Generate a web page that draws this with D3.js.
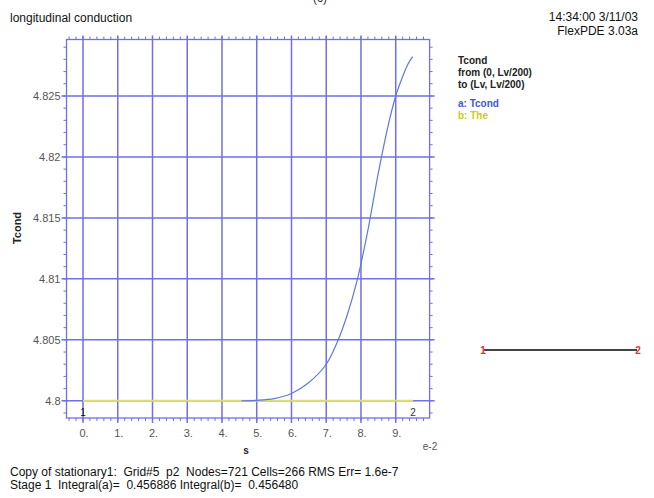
<!DOCTYPE html>
<html>
<head>
<meta charset="utf-8">
<script src="https://cdn.jsdelivr.net/npm/d3@7"></script>
<style>
 body{margin:0;background:#fff;}
 text{font-family:Arial,"Liberation Sans",sans-serif;}
</style>
</head>
<body>
<script>
// s values are in units of e-2
var sTcond = [4.56, 5.0, 5.5, 6.0, 6.5, 7.0, 7.3, 7.6, 7.9, 8.2, 8.5, 8.8, 9.0, 9.2, 9.35, 9.49];
var vTcond = [4.8, 4.80004, 4.80018, 4.8006, 4.8015, 4.803, 4.8047, 4.807, 4.81, 4.814, 4.8187, 4.8228, 4.825, 4.8266, 4.8276, 4.82822];
var sThe = [0, 9.5];
var vThe = [4.8, 4.8];
var xTicks = [0,1,2,3,4,5,6,7,8,9];
var yTicks = [4.8, 4.805, 4.81, 4.815, 4.82, 4.825];
var yTickLabels = ["4.8","4.805","4.81","4.815","4.82","4.825"];

var W = 654, H = 498;
var gridColor = "#6f6fe6";

var svg = d3.select("body").append("svg")
    .attr("width", W)
    .attr("height", H);

var x = d3.scaleLinear().domain([-0.475, 9.975]).range([66.5, 429.6]);
var y = d3.scaleLinear().domain([4.79859, 4.82963]).range([418, 39.5]);

// frame
svg.append("rect")
   .attr("x", x.range()[0]).attr("y", y.range()[1])
   .attr("width", x.range()[1]-x.range()[0])
   .attr("height", y.range()[0]-y.range()[1])
   .attr("fill","none").attr("stroke",gridColor).attr("stroke-width",1.3);

// minor ticks
var xMinor = d3.range(-0.4, 9.95, 0.2);
svg.selectAll(".xminb").data(xMinor).enter().append("line")
   .attr("x1", d=>x(d)).attr("x2", d=>x(d))
   .attr("y1", y.range()[0]).attr("y2", y.range()[0]+3)
   .attr("stroke", gridColor).attr("stroke-width",1);
svg.selectAll(".xmint").data(xMinor).enter().append("line")
   .attr("x1", d=>x(d)).attr("x2", d=>x(d))
   .attr("y1", y.range()[1]).attr("y2", y.range()[1]-3)
   .attr("stroke", gridColor).attr("stroke-width",1);
var yMinor = d3.range(4.799, 4.8296, 0.001);
svg.selectAll(".yminl").data(yMinor).enter().append("line")
   .attr("x1", x.range()[0]-3).attr("x2", x.range()[0])
   .attr("y1", d=>y(d)).attr("y2", d=>y(d))
   .attr("stroke", gridColor).attr("stroke-width",1);
svg.selectAll(".yminr").data(yMinor).enter().append("line")
   .attr("x1", x.range()[1]).attr("x2", x.range()[1]+3)
   .attr("y1", d=>y(d)).attr("y2", d=>y(d))
   .attr("stroke", gridColor).attr("stroke-width",1);

// grid
svg.selectAll(".vg").data(xTicks).enter().append("line")
   .attr("x1", d=>x(d)).attr("x2", d=>x(d))
   .attr("y1", y.range()[1]-4).attr("y2", y.range()[0]+5)
   .attr("stroke", gridColor).attr("stroke-width",1.5);
svg.selectAll(".hg").data(yTicks).enter().append("line")
   .attr("x1", x.range()[0]-5).attr("x2", x.range()[1]+5)
   .attr("y1", d=>y(d)).attr("y2", d=>y(d))
   .attr("stroke", gridColor).attr("stroke-width",1.5);

// tick labels
svg.selectAll(".yl").data(yTicks).enter().append("text")
   .attr("x", x.range()[0]-6).attr("y", d=>y(d)+4)
   .attr("text-anchor","end").attr("font-size",11).attr("fill","#555")
   .text((d,i)=>yTickLabels[i]);
svg.selectAll(".xl").data(xTicks).enter().append("text")
   .attr("x", d=>x(d)+1).attr("y", 437)
   .attr("text-anchor","middle").attr("font-size",11).attr("fill","#555")
   .text(d=>d+".");

// series
var line = d3.line().x(d=>x(d[0])).y(d=>y(d[1]));
svg.append("path")
   .attr("d", line(d3.zip(sThe, vThe)))
   .attr("fill","none").attr("stroke","#dede70").attr("stroke-width",2);
svg.append("path")
   .attr("d", line.curve(d3.curveCatmullRom)(d3.zip(sTcond, vTcond)))
   .attr("fill","none").attr("stroke","#5f78dc").attr("stroke-width",1.2);

// end markers
svg.append("text").attr("x", x(0)).attr("y", 416).attr("text-anchor","middle")
   .attr("font-size",10).attr("fill","#111").text("1");
svg.append("text").attr("x", x(9.5)).attr("y", 416).attr("text-anchor","middle")
   .attr("font-size",10).attr("fill","#333").text("2");

// axis labels
svg.append("text").attr("x", 246).attr("y", 454).attr("text-anchor","middle")
   .attr("font-size",10).attr("font-weight","bold").attr("fill","#222").text("s");
svg.append("text").attr("x", 430).attr("y", 450).attr("text-anchor","middle")
   .attr("font-size",10).attr("fill","#555").text("e-2");
svg.append("text").attr("transform","translate(21,228) rotate(-90)")
   .attr("text-anchor","middle").attr("font-size",11).attr("font-weight","bold")
   .attr("fill","#222").text("Tcond");

// header
svg.append("text").attr("x", 320).attr("y", 2).attr("text-anchor","middle")
   .attr("font-size",12).attr("fill","#333").text("(c)");
svg.append("text").attr("x", 10).attr("y", 22).attr("font-size",12).attr("fill","#111")
   .text("longitudinal conduction");
svg.append("text").attr("x", 638).attr("y", 21).attr("text-anchor","end")
   .attr("font-size",12).attr("fill","#111").text("14:34:00 3/11/03");
svg.append("text").attr("x", 638).attr("y", 35).attr("text-anchor","end")
   .attr("font-size",12).attr("fill","#111").text("FlexPDE 3.03a");

// legend
var legend = [
  {t:"Tcond", c:"#222", y:64},
  {t:"from (0, Lv/200)", c:"#222", y:76},
  {t:"to (Lv, Lv/200)", c:"#222", y:88},
  {t:"a: Tcond", c:"#3a5ad8", y:107},
  {t:"b: The", c:"#cccc10", y:119}
];
svg.selectAll(".lg").data(legend).enter().append("text")
   .attr("x", 458).attr("y", d=>d.y).attr("font-size",10).attr("font-weight","bold")
   .attr("fill", d=>d.c).text(d=>d.t);

// domain sketch
svg.append("line").attr("x1",484).attr("x2",637).attr("y1",350).attr("y2",350)
   .attr("stroke","#444").attr("stroke-width",2);
svg.append("text").attr("x",483).attr("y",354).attr("text-anchor","middle")
   .attr("font-size",10).attr("font-weight","bold").attr("fill","#d33").text("1");
svg.append("text").attr("x",638).attr("y",354).attr("text-anchor","middle")
   .attr("font-size",10).attr("font-weight","bold").attr("fill","#d33").text("2");

// footer
svg.append("text").attr("x", 10).attr("y", 476).attr("font-size",12).attr("fill","#111")
   .attr("xml:space","preserve")
   .text("Copy of stationary1:  Grid#5  p2  Nodes=721 Cells=266 RMS Err= 1.6e-7");
svg.append("text").attr("x", 10).attr("y", 489).attr("font-size",12).attr("fill","#111")
   .attr("xml:space","preserve")
   .text("Stage 1  Integral(a)=  0.456886 Integral(b)=  0.456480");
</script>
</body>
</html>
